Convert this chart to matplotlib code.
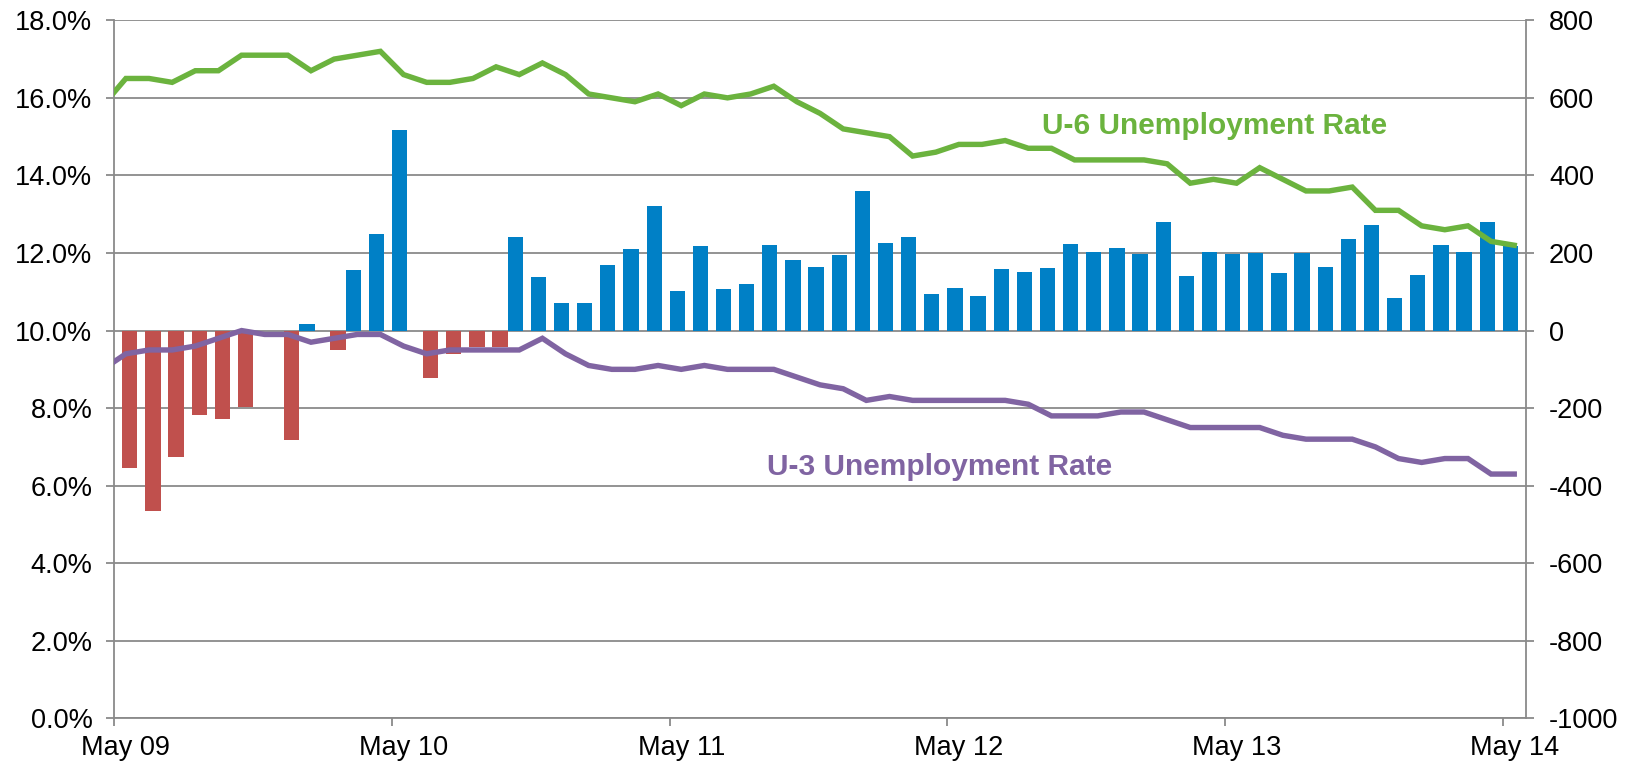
import matplotlib
matplotlib.use("Agg")
import matplotlib.pyplot as plt
import numpy as np
import pandas as pd

plt.rcParams['font.family'] = ['Liberation Sans', 'DejaVu Sans']
plt.rcParams['axes.unicode_minus'] = False

# Months for the rate lines (Apr 09 .. May 14); Apr 09 lies just left of the axis
months = pd.date_range('2009-04-01', '2014-05-01', freq='MS')
month_labels = [d.strftime('%b %y') for d in months]

u6_rate = [15.8,
           16.5, 16.5, 16.4, 16.7, 16.7, 17.1, 17.1, 17.1, 16.7, 17.0,
           17.1, 17.2, 16.6, 16.4, 16.4, 16.5, 16.8, 16.6, 16.9, 16.6,
           16.1, 16.0, 15.9, 16.1, 15.8, 16.1, 16.0, 16.1, 16.3, 15.9,
           15.6, 15.2, 15.1, 15.0, 14.5, 14.6, 14.8, 14.8, 14.9, 14.7,
           14.7, 14.4, 14.4, 14.4, 14.4, 14.3, 13.8, 13.9, 13.8, 14.2,
           13.9, 13.6, 13.6, 13.7, 13.1, 13.1, 12.7, 12.6, 12.7, 12.3,
           12.2]

u3_rate = [9.0,
           9.4, 9.5, 9.5, 9.6, 9.8, 10.0, 9.9, 9.9, 9.7, 9.8,
           9.9, 9.9, 9.6, 9.4, 9.5, 9.5, 9.5, 9.5, 9.8, 9.4,
           9.1, 9.0, 9.0, 9.1, 9.0, 9.1, 9.0, 9.0, 9.0, 8.8,
           8.6, 8.5, 8.2, 8.3, 8.2, 8.2, 8.2, 8.2, 8.2, 8.1,
           7.8, 7.8, 7.8, 7.9, 7.9, 7.7, 7.5, 7.5, 7.5, 7.5,
           7.3, 7.2, 7.2, 7.2, 7.0, 6.7, 6.6, 6.7, 6.7, 6.3,
           6.3]

# Monthly payroll change (thousands), May 09 .. May 14
payrolls = [-354, -466, -327, -217, -227, -198, 0, -283, 18, -49,
            156, 250, 516, -122, -61, -42, -42, 241, 137, 70,
            70, 168, 211, 321, 101, 217, 106, 121, 220, 183,
            163, 195, 359, 225, 242, 95, 109, 88, 160, 150,
            161, 223, 203, 213, 197, 279, 140, 203, 198, 200,
            149, 201, 163, 236, 273, 83, 143, 221, 203, 281,
            217]

left_ticks = [0, 2, 4, 6, 8, 10, 12, 14, 16, 18]
right_ticks = [-1000, -800, -600, -400, -200, 0, 200, 400, 600, 800]

GREEN = '#6BB33E'
PURPLE = '#8064A2'
BLUE = '#0080C6'
RED = '#C0504D'
GRAY = '#8A8A8A'
FS = 19.5

fig = plt.figure(figsize=(16.31, 7.67), dpi=100)
L, R, T, B = 114.3 / 1631, 1525.8 / 1631, 1 - 20.3 / 767, 1 - 718.4 / 767
axL = fig.add_axes([L, B, R - L, T - B])
axR = axL.twinx()
axL.set_zorder(axR.get_zorder() + 1)
axL.patch.set_visible(False)

n_bars = len(payrolls)
xb = np.arange(n_bars)
pay = np.array(payrolls, dtype=float)
pos = np.where(pay > 0, pay, 0)
neg = np.where(pay < 0, pay, 0)
w = 0.66
axR.bar(xb - 0.17, pos, width=w, color=BLUE, zorder=3)
axR.bar(xb + 0.17, neg, width=w, color=RED, zorder=3)

xl = np.arange(len(months)) - 1
axL.plot(xl, u6_rate, color=GREEN, lw=3.9, solid_joinstyle='miter', zorder=5)
axL.plot(xl, u3_rate, color=PURPLE, lw=3.9, solid_joinstyle='miter', zorder=5)

axL.set_xlim(-0.5, n_bars - 0.5)
axL.set_ylim(0, 18)
axR.set_ylim(-1000, 800)

axL.set_yticks(left_ticks)
axL.set_yticklabels([f'{v:.1f}%' for v in left_ticks])
axR.set_yticks(right_ticks)
axR.set_yticklabels([str(v) for v in right_ticks])

axR.set_axisbelow(True)
axR.grid(axis='y', color=GRAY, lw=1.3)
axR.grid(axis='x', visible=False)

# x axis: ticks at year boundaries, labels centred on the May categories
label_idx = list(range(0, n_bars, 12))
axL.set_xticks([i - 0.5 for i in label_idx])
axL.set_xticklabels([])
axL.set_xticks(label_idx, minor=True)
axL.set_xticklabels([month_labels[i + 1] for i in label_idx], minor=True)
axL.tick_params(axis='x', which='major', length=6, width=1.3, color=GRAY, direction='out')
axL.tick_params(axis='x', which='minor', length=0, pad=12, labelsize=FS)
axL.tick_params(axis='y', length=5.7, width=1.3, color=GRAY, pad=10, labelsize=FS)
axR.tick_params(axis='y', length=5.7, width=1.3, color=GRAY, pad=11, labelsize=FS)
axR.tick_params(axis='x', which='both', length=0, labelbottom=False)

for sp in ['top', 'right']:
    axL.spines[sp].set_visible(False)
for sp in ['top', 'left', 'bottom']:
    axR.spines[sp].set_visible(False)
for sp in ['left', 'bottom']:
    axL.spines[sp].set_color(GRAY)
    axL.spines[sp].set_linewidth(1.3)
axR.spines['right'].set_color(GRAY)
axR.spines['right'].set_linewidth(1.3)

axL.text(39.6, 15.08, 'U-6 Unemployment Rate', color=GREEN, fontsize=21.5,
         fontweight='bold', ha='left', va='baseline', zorder=6)
axL.text(27.7, 6.27, 'U-3 Unemployment Rate', color=PURPLE, fontsize=21.5,
         fontweight='bold', ha='left', va='baseline', zorder=6)

fig.savefig('out.png', dpi=100)
